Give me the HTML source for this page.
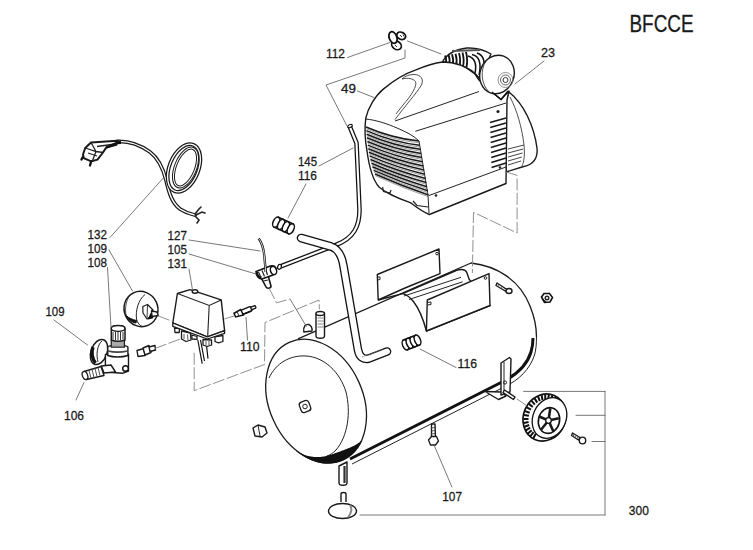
<!DOCTYPE html>
<html><head><meta charset="utf-8">
<style>
html,body{margin:0;padding:0;background:#fff;width:753px;height:550px;overflow:hidden}
svg{display:block}
text{font-family:"Liberation Sans",sans-serif;fill:#1a1a1a;stroke:#1a1a1a;stroke-width:0.3}
.l{fill:none;stroke:#1a1a1a;stroke-linecap:round;stroke-linejoin:round}
.t{fill:none;stroke:#333;stroke-linecap:round;stroke-linejoin:round}
.f{fill:#fff;stroke:#1a1a1a;stroke-linejoin:round}
.d{fill:none;stroke:#555;stroke-linecap:round}
.g{fill:none;stroke:#8a8a8a;stroke-dasharray:12 2.5}
.s{fill:none;stroke:#222;}
</style></head>
<body>
<svg width="753" height="550" viewBox="0 0 753 550">
<!-- POWER CORD -->
<g id="cord">
<path d="M117.5 141.5 C128 141 140 145 150 152 C158 158 163 168 166 180 C169 193 172 203 180 209 C186 213 191 214 195 215" fill="none" stroke="#1a1a1a" stroke-width="3.8" stroke-linecap="round"/>
<path d="M117.5 141.5 C128 141 140 145 150 152 C158 158 163 168 166 180 C169 193 172 203 180 209 C186 213 191 214 195 215" fill="none" stroke="#fff" stroke-width="1.3" stroke-linecap="round"/>
<ellipse cx="184" cy="168" rx="14.5" ry="25" transform="rotate(22 184 168)" fill="none" stroke="#1a1a1a" stroke-width="3.8"/>
<ellipse cx="184" cy="168" rx="14.5" ry="25" transform="rotate(22 184 168)" fill="none" stroke="#fff" stroke-width="1.3"/>
<ellipse cx="185.5" cy="167.5" rx="10" ry="20.5" transform="rotate(22 185.5 167.5)" fill="none" stroke="#1a1a1a" stroke-width="3"/>
<ellipse cx="185.5" cy="167.5" rx="10" ry="20.5" transform="rotate(22 185.5 167.5)" fill="none" stroke="#fff" stroke-width="1"/>
<path class="f" stroke-width="2" d="M91 142.5 L117.2 140.7 L116.5 144.7 L106.2 147.6 L102.6 153 L97.5 159.6 L92.4 161 L89.5 160.7 L83.7 158.2 L83 154.5 L85.2 148 Z"/>
<path class="s" stroke-width="1.3" d="M85.5 148 L96 151.5 L103 152.5 M96 151.5 L92.4 161 M91 142.5 L96 151.5 M97 146.5 L115.5 144 M88 153 L97 156"/>
<path d="M106.2 147.6 L117.5 142.5" stroke="#111" stroke-width="2.4"/>
<path d="M117 142.5 L121 142.3" stroke="#111" stroke-width="3.4"/>
<path d="M82.5 157.5 L81.5 159.5 M91 162 L90 165.5" stroke="#111" stroke-width="2.3" stroke-linecap="round"/>
<path d="M195 214 L199 209 L201 207 M196 215 L202 212 L205 213 M195 216 L199 220 L197 223" fill="none" stroke="#222" stroke-width="1.6" stroke-linecap="round"/>
</g>



<!-- TANK -->
<g id="tank">
<path fill="#fff" stroke="none" d="M298.5 338.6 L471 263 C497 266 520 280 530 306 C536 322 537 340 532 353 C527 365 518 373 507 379 L345 462 L318 462 L270 420 L266 390 Z"/>
<path class="l" stroke-width="1.3" d="M298.5 338.6 L471 263 C497 266 520 280 530 306 C534.5 317 536.5 327 536.5 337"/>

<ellipse class="l" style="fill:#fff" cx="316.1" cy="401.1" rx="46.8" ry="64.6" transform="rotate(-24.6 316.1 401.1)" stroke-width="1.3"/>
<path class="s" stroke-width="1" d="M269 378 C276 363 290 355 306 356 C324 357 340 372 346 392 C351 412 348 436 336 450 C333 453 330 455 327 456"/>
<path d="M296.4 451.3 L297.9 452.4 L299.4 453.5 L300.9 454.6 L302.4 455.6 L304.0 456.5 L305.6 457.4 L307.2 458.2 L308.7 459.0 L310.3 459.7 L312.0 460.4 L313.6 461.0 L315.2 461.5 L316.8 462.0 L318.4 462.4 L320.0 462.7 L321.6 463.0 L323.2 463.3 L324.8 463.4 L326.4 463.5 L327.9 463.6 L329.5 463.6 L331.1 463.5 L332.6 463.3 L334.1 463.1 L335.6 462.9 L337.1 462.5 L338.5 462.1 L340.0 461.7 L341.4 461.2 L342.8 460.6 L344.1 460.0 L345.5 459.3 L346.8 458.5 L348.0 457.7 L349.3 456.8 L350.5 455.9 L351.6 454.9 L352.8 453.9 L353.9 452.8 L354.9 451.7 L356.0 450.5 L357.0 449.3 L357.9 448.0 L358.8 446.7 L359.6 445.3 L360.5 443.9 L361.2 442.4 L362.0 440.9 L361.5 440.6 L360.2 441.7 L358.9 442.7 L357.6 443.6 L356.2 444.5 L354.9 445.3 L353.5 446.0 L352.2 446.6 L350.9 447.2 L349.6 447.8 L348.3 448.3 L347.1 448.8 L345.8 449.3 L344.6 449.7 L343.5 450.2 L342.3 450.6 L341.2 451.0 L340.0 451.4 L338.9 451.9 L337.8 452.3 L336.6 452.7 L335.5 453.1 L334.4 453.5 L333.2 453.9 L332.1 454.3 L330.9 454.7 L329.7 455.1 L328.4 455.4 L327.1 455.8 L325.8 456.1 L324.5 456.4 L323.2 456.6 L321.8 456.8 L320.3 456.9 L318.9 457.0 L317.4 457.1 L315.8 457.1 L314.3 457.0 L312.7 456.8 L311.1 456.6 L309.5 456.3 L307.9 455.9 L306.3 455.5 L304.6 454.9 L303.0 454.3 L301.4 453.6 L299.8 452.7 L298.2 451.8 L296.7 450.7 Z" fill="#111"/>
<path d="M350 459 L503 381.5 C516 375 527 365 531 352 C532.5 347 533 343 533 338" stroke="#111" stroke-width="3" fill="none"/>
<path d="M352 464 L505 386.5 C519 380 530 369 534.5 355 C536 350 536.5 344 536.5 336" stroke="#222" stroke-width="1" fill="none"/>
<rect x="300" y="401" width="10" height="11" rx="3" transform="rotate(-20 305 406.5)" class="f" stroke-width="1.3"/>
<circle cx="305" cy="406.5" r="2.3" fill="none" stroke="#222" stroke-width="1"/>
<path class="f" stroke-width="1.4" d="M339 466 L339 483 C339 486 347 486 347 483 L347 462 Z"/>
<path d="M344.5 466 L344.5 483" stroke="#333" stroke-width="2.2"/>
<ellipse class="f" stroke-width="1.4" cx="342.5" cy="511" rx="14" ry="7.5"/>
<path class="f" stroke-width="1.4" d="M341 502 L341 494 C341 492 346 492 346 494 L346 502"/>
<path d="M350 505 C352 508 352 513 348 517" stroke="#888" stroke-width="2" fill="none"/>
<!-- bolt bottom-left -->
<path class="f" stroke-width="1.4" d="M253 428 L258 425 L265 427 L267 433 L262 437 L255 436 Z"/>
<path class="s" stroke-width="1" d="M258 425 L260 436"/>
</g>

<!-- SADDLE BRACKET -->
<g id="saddle">
<path class="f" stroke-width="1.4" d="M377.3 274.5 L439 249 L440 273.6 L405 288 L378.2 300 Z"/>
<path class="s" stroke-width="1" d="M377.3 277 L380 277 L380 279.5 L377.5 280"/>
<circle cx="437" cy="253.6" r="1.3" fill="none" stroke="#222" stroke-width="1"/>
<path class="f" stroke-width="1.4" d="M378.2 300 L402.7 293.6 L457.3 270 C462 269 466 270 467 273 L469 279 L490 305.5 L426.4 331 C424 322 420 310 413.6 301.8 C410 297 406 294.5 402.7 293.6"/>
<path class="s" stroke-width="1" d="M404 296 L461 277.3 M409 299.5 L462.7 281.8"/>
<path class="f" stroke-width="1.4" d="M427.3 300 L489 273.6 L490 305.5 L426.4 331 Z"/>
<path class="s" stroke-width="1" d="M427.3 302.5 L431 302 L431 304.5 L427.5 305"/>
<circle cx="485.5" cy="278" r="1.3" fill="none" stroke="#222" stroke-width="1"/>
</g>
<!-- PIPE 145 -->
<g id="pipe">
<path d="M349.5 126 L356.5 143 L359.5 210 C359.5 226 354 238 336 245 L279 267" fill="none" stroke="#111" stroke-width="4.6" stroke-linecap="butt" stroke-linejoin="round"/>
<path d="M349.5 126 L356.5 143 L359.5 210 C359.5 226 354 238 336 245 L278.5 267.2" fill="none" stroke="#fff" stroke-width="2.1" stroke-linecap="butt" stroke-linejoin="round"/>
<ellipse cx="350" cy="126" rx="2.4" ry="1.5" transform="rotate(-25 350 126)" fill="#fff" stroke="#111" stroke-width="1.1"/>
<ellipse cx="279.5" cy="266.8" rx="1.8" ry="2.5" transform="rotate(20 279.5 266.8)" fill="#fff" stroke="#111" stroke-width="1.2"/>
</g>
<!-- HOSE -->
<g id="hose">
<path d="M301 238 L331 246.5 C338 249 342 256 343.5 266 L358 350 C359.5 357 363 360 369 358.5 L387 351.5" fill="none" stroke="#111" stroke-width="8.6" stroke-linecap="round" stroke-linejoin="round"/>
<path d="M301 238 L331 246.5 C338 249 342 256 343.5 266 L358 350 C359.5 357 363 360 369 358.5 L387 351.5" fill="none" stroke="#fff" stroke-width="6" stroke-linecap="round" stroke-linejoin="round"/>
<path d="M362 357 L384 349" stroke="#666" stroke-width="0.8" stroke-dasharray="1.5 1"/>
</g>
<!-- FITTINGS -->
<g id="fittings">
<path fill="#fff" stroke="#111" stroke-width="1.6" d="M274.0 227.0 L288.5 233.8 L293.0 224.0 L278.5 217.2 Z"/>
<ellipse cx="276.2" cy="222.1" rx="3.0" ry="5.4" transform="rotate(25.0 276.2 222.1)" fill="#fff" stroke="#111" stroke-width="1.5"/>
<ellipse cx="281.1" cy="224.4" rx="3.0" ry="5.4" transform="rotate(25.0 281.1 224.4)" fill="#fff" stroke="#111" stroke-width="1.5"/>
<ellipse cx="285.9" cy="226.6" rx="3.0" ry="5.4" transform="rotate(25.0 285.9 226.6)" fill="#fff" stroke="#111" stroke-width="1.5"/>
<ellipse cx="290.8" cy="228.9" rx="3.0" ry="5.4" transform="rotate(25.0 290.8 228.9)" fill="#fff" stroke="#111" stroke-width="1.5"/>
<path fill="#fff" stroke="#111" stroke-width="1.6" d="M407.5 349.8 L419.5 345.0 L415.5 335.2 L403.5 340.0 Z"/>
<ellipse cx="405.5" cy="344.9" rx="2.9" ry="5.3" transform="rotate(-22.0 405.5 344.9)" fill="#fff" stroke="#111" stroke-width="1.5"/>
<ellipse cx="409.5" cy="343.3" rx="2.9" ry="5.3" transform="rotate(-22.0 409.5 343.3)" fill="#fff" stroke="#111" stroke-width="1.5"/>
<ellipse cx="413.5" cy="341.7" rx="2.9" ry="5.3" transform="rotate(-22.0 413.5 341.7)" fill="#fff" stroke="#111" stroke-width="1.5"/>
<ellipse cx="417.5" cy="340.1" rx="2.9" ry="5.3" transform="rotate(-22.0 417.5 340.1)" fill="#fff" stroke="#111" stroke-width="1.5"/>
<!-- post -->
<path class="f" stroke-width="1.4" d="M316 314 L316 336 C316 339 324.5 339 324.5 336 L324.5 313 Z"/>
<ellipse class="f" stroke-width="1.4" cx="320.2" cy="313.5" rx="4.2" ry="2"/>
<path d="M317.5 318 L323.5 318 M317.5 321 L323.5 321 M317.5 324 L323.5 324 M317.5 327 L323.5 327" stroke="#555" stroke-width="0.7"/>
<!-- dome -->
<path class="f" stroke-width="1.4" d="M303.8 332 C303 326 306 324 308.5 324.5 C311 325 312.5 328 312 331 Z"/>
<!-- bolt 107 -->
<path class="f" stroke-width="1.4" d="M431.5 424 L435 424 L435.5 438 L431.5 438 Z"/>
<path d="M431 428 L435.5 427.5 M431 431 L435.5 430.5 M431 434 L435.5 433.5" stroke="#333" stroke-width="0.8"/>
<path class="f" stroke-width="1.3" d="M428.5 440 L431.5 436.5 L436.5 436.5 L438.5 441 L435.5 445 L430.5 445 Z"/>
<!-- bolt right on tank -->
<path class="f" stroke-width="1.4" d="M497 283 L507 289.5 L506 291.5 L496 285.5 Z"/>
<ellipse class="f" stroke-width="1.4" cx="509" cy="291" rx="3" ry="2.5"/>
<path d="M499 284.5 L498.5 286 M502 286.5 L501.5 288 M504.5 288 L504 289.5" stroke="#333" stroke-width="0.7"/>
<!-- nut right -->
<path fill="#fff" stroke="#111" stroke-width="1.6" d="M541.5 297 L544 293.5 L549.5 293.5 L552.5 297.5 L550 302 L544.5 302.5 Z"/>
<circle cx="547" cy="298" r="1.8" fill="none" stroke="#222" stroke-width="1.4"/>
<path d="M542 299 L546 302" stroke="#111" stroke-width="1.2"/>
<!-- fitting 112 -->
<ellipse cx="396.5" cy="45.3" rx="5.2" ry="4" transform="rotate(35 396.5 45.3)" fill="#fff" stroke="#111" stroke-width="1.7"/>
<ellipse cx="401.2" cy="35.8" rx="4.6" ry="3.5" transform="rotate(25 401.2 35.8)" fill="#fff" stroke="#111" stroke-width="1.8"/>
<ellipse cx="393" cy="37.5" rx="3.8" ry="6" transform="rotate(-20 393 37.5)" fill="#fff" stroke="#111" stroke-width="1.8"/>
<path d="M400 35 L402 37 M403 34.5 L404 36.5 M395 45 L397 47" stroke="#333" stroke-width="1"/>
<!-- T fitting 105 -->
<path fill="#fff" stroke="#111" stroke-width="1.6" d="M261.5 278.5 L266 287 C267 289 271 288.5 271 286 L268.5 277"/>
<path fill="#fff" stroke="#111" stroke-width="1.6" d="M256 271.5 C256 276 259 279 262 279 L273 275 C276 274 277 270 275.5 267.5 C274 265.5 271 265.5 269 266.5 Z"/>
<ellipse fill="#fff" stroke="#111" stroke-width="1.5" cx="273.5" cy="270.5" rx="3" ry="4.2" transform="rotate(-20 273.5 270.5)"/>
<path d="M258.5 272 L261 277.5 M262 270.5 L264.5 276.5 M265.5 269 L267.5 275 M263.5 281 L268 280" stroke="#222" stroke-width="1.2"/>
<path d="M257 272 C257 275 259 277.5 261.5 277.5" stroke="#111" stroke-width="1.8" fill="none"/>
<!-- wire 127 -->
<path d="M258.7 238.5 C262 243 264 250 264.5 258 C265 264 265.5 268 265.7 272" fill="none" stroke="#111" stroke-width="2.4"/>
<path d="M258.7 238.5 C262 243 264 250 264.5 258 C265 264 265.5 268 265.7 272" fill="none" stroke="#fff" stroke-width="0.8"/>
<!-- nipple 110 -->
<g transform="rotate(-22 245 311)">
<rect x="241" y="308.8" width="11" height="4.4" rx="1" fill="#fff" stroke="#111" stroke-width="1.4"/>
<rect x="251.5" y="309.6" width="5" height="2.8" rx="1.2" fill="#fff" stroke="#111" stroke-width="1.3"/>
<path d="M234 309 L241.5 308 L242 314 L234 313 Z" fill="#fff" stroke="#111" stroke-width="1.5"/>
<path d="M237.5 308.5 L237.5 313.5" stroke="#333" stroke-width="1"/>
<path d="M241.5 313.5 L251 313.5" stroke="#111" stroke-width="1.6"/>
</g>
</g>


<!-- PRESSURE SWITCH -->
<g id="pswitch">
<path d="M197.8 340 L202.2 363.7 M200.5 340 L204.5 361 M206.5 345.5 L208 358.6" stroke="#111" stroke-width="1.2"/>
<path class="f" stroke-width="1.3" d="M174.5 328 L179.5 328.5 L179.2 332.5 L175 332.5 Z"/>
<path class="f" stroke-width="1.3" d="M181.5 331 L190.5 333 L191 340 L186 341.5 L181.5 339 Z"/>
<path class="f" stroke-width="1.3" d="M191.8 335 L197 336.5 L197 339.4 L192 339 Z"/>
<path class="f" stroke-width="1.3" d="M203 339.5 L211.5 340 L211.6 345 L207 346.5 L203 345 Z"/>
<path class="f" stroke-width="1.3" d="M215 336.8 L222.9 335.5 L222.9 341.5 L218.5 342.8 L215 341.5 Z"/>
<path d="M184 334 L184 339 M187.5 334.5 L188 340 M206 341 L206 345.5 M209 341 L209 345.5" stroke="#444" stroke-width="0.9"/>
<path class="f" stroke-width="1.4" d="M177.4 293.5 L190 289.6 L221.2 299.9 L224.6 330.7 L207.3 336.8 L172.8 323 Z"/>
<path class="s" stroke-width="1.1" d="M177.4 293.5 L209.2 305.5 L221.2 299.9 M209.2 305.5 L207.7 336"/>
<path class="f" stroke-width="1.3" d="M172.8 323 L207.3 336.8 L224.6 330.7 L224.6 333.3 L207.3 339 L172.8 326.4 Z"/>
<ellipse class="f" stroke-width="1.4" cx="195" cy="291.5" rx="2.8" ry="1.8"/>
</g>
<!-- GAUGE 109 -->
<g id="gauge">
<ellipse class="f" cx="141" cy="309" rx="16.8" ry="17.8" transform="rotate(-25 141 309)" stroke-width="1.5"/>
<path class="s" stroke-width="1" d="M145 294.5 C138 300 135.5 311 136.5 319 C137.5 323 139.5 325.5 142 326.3"/>
<path class="s" stroke-width="0.8" d="M130 295 C125 302 124.5 312 127 318"/>
<path d="M126 315.5 C128 320 132 322.5 136 323 L136.5 320.5 C132 319.5 129 318 126 315.5 Z" fill="#111" stroke="#111" stroke-width="1"/>
<path class="f" stroke-width="1.2" d="M142.8 306.5 L147.5 304.5 L152.5 309.5 L152.2 317.5 L147 319 L143 313 Z"/>
<path d="M147.5 304.5 L147 319" stroke="#222" stroke-width="0.9"/>
<path d="M148 318.5 L152.2 317.5 L152.5 309.5" stroke="#111" stroke-width="2"/>
<path class="f" stroke-width="1.4" d="M151.5 311 L157 312 L158.3 315.5 L152 316.5 Z"/>
</g>
<!-- REGULATOR -->
<g id="regulator">
<ellipse class="f" cx="99" cy="352" rx="8" ry="13" transform="rotate(20 99 352)" stroke-width="1.5"/>
<path d="M93 347 C91 352 92 359 95.5 363" stroke="#111" stroke-width="3.4" fill="none"/>
<path class="s" stroke-width="1" d="M102 341 C97 345 96 355 98 362"/>
<path class="f" stroke-width="1.4" d="M105.4 354.5 L128.5 354.3 L128.5 371 L123 373.2 L105.4 372 Z"/>
<path class="f" stroke-width="1.4" d="M101.3 366 L111 365 L115.5 372 L104 373 Z"/>
<circle cx="125.5" cy="368.5" r="2.8" fill="#fff" stroke="#111" stroke-width="1.4"/>
<path class="f" stroke-width="1.4" d="M107.8 347 C108 345 127.5 345 127.9 347 L127.9 355.5 C122 357.5 113 357.5 107.8 355.5 Z"/>
<path d="M108 351 C114 352.5 121 352.5 127.8 351" stroke="#444" stroke-width="1.6" fill="none"/>
<path class="f" stroke-width="1.3" d="M111.3 340 L124.4 340 L124.4 347.2 L111.3 347.2 Z"/>
<path d="M111.5 342 L124.2 342 M111.5 344 L124.2 344 M111.5 346 L124.2 346" stroke="#555" stroke-width="1"/>
<path class="f" stroke-width="1.5" d="M111.3 328.5 C111.3 324.5 125 324.5 125 328.5 L125 340 C121 341.5 115 341.5 111.3 340 Z"/>
<ellipse class="f" cx="118.1" cy="328.5" rx="6.8" ry="2.8" stroke-width="1.3"/>
<path d="M113 332 L113 339.5 M115.5 332 L115.5 340 M118 332 L118 340 M120.5 332 L120.5 340 M123 332 L123 339.5" stroke="#333" stroke-width="1"/>
<path class="f" stroke-width="1.4" d="M84 371.5 L101 366.5 L104 375.5 L86.5 379.5 Z"/>
<ellipse class="f" cx="85" cy="375.5" rx="2.6" ry="4.2" transform="rotate(-20 85 375.5)" stroke-width="1.3"/>
<path d="M89 370.5 L91 378 M92 369.5 L94 377.5 M95 368.5 L97 376.5 M98 367.5 L100 375.5" stroke="#444" stroke-width="0.9"/>
</g>
<!-- SMALL NIPPLE -->
<g>
<path class="f" stroke-width="1.4" d="M137 350.5 L144 348.5 L145 355.5 L138 356.5 Z"/>
<path class="f" stroke-width="1.4" d="M143 348 L149 345.5 L151 352.5 L145 355 Z"/>
<path class="f" stroke-width="1.4" d="M149 347 L155 345.5 L155.5 350 L150 351.5 Z"/>
</g>

<!-- WHEEL BRACKET -->
<g id="bracket">
<path class="f" stroke-width="1.4" d="M485 391.5 L498.5 399.5 L506 396 L501 392 Z"/>
<path class="f" stroke-width="1.4" d="M501 363 L509.5 357.5 L511 359 L510 392 L501 395 Z"/>
<path class="s" stroke-width="1" d="M504 362 L504 394"/>
<circle cx="505" cy="382.5" r="1.6" fill="none" stroke="#222" stroke-width="1"/>
<path class="f" stroke-width="1.4" d="M504.5 390 L515 397 L513.5 399.5 L503 392.5 Z"/>
</g>
<!-- WHEEL -->
<g id="wheel">
<ellipse cx="544.5" cy="417.5" rx="21" ry="24" transform="rotate(24 544.5 417.5)" fill="#fff" stroke="#111" stroke-width="1.7"/>
<path d="M533.3 438.2 L535.8 433.8 M530.4 436.1 L533.6 432.2 M527.9 433.4 L531.7 430.2 M525.9 430.3 L530.2 427.7 M524.5 426.8 L529.2 425.0 M523.7 423.0 L528.6 422.0 M523.5 419.0 L528.5 418.9 M523.9 415.0 L528.9 415.8 M525.0 411.1 L529.7 412.7 M526.7 407.3 L531.0 409.7 M528.9 403.9 L532.8 407.0 M531.6 400.9 L534.8 404.6 M534.6 398.4 L537.2 402.6 M538.0 396.4 L539.8 401.1 M541.6 395.1 L542.5 400.0 M545.2 394.5 L545.3 399.5 M548.9 394.6 L548.1 399.5 M552.4 395.4 L550.8 400.1 M555.7 396.8 L553.2 401.2 M558.6 398.9 L555.4 402.8" stroke="#111" stroke-width="2"/>
<ellipse cx="549.5" cy="418" rx="16.5" ry="21" transform="rotate(24 549.5 418)" fill="#fff" stroke="#111" stroke-width="1.3"/>
<ellipse cx="549" cy="420.5" rx="10.5" ry="13" transform="rotate(15 549 420.5)" fill="#fff" stroke="#111" stroke-width="1.6"/>
<path d="M548.5 420.5 L550.3 408.2 M548.5 420.5 L558.8 418.3 M548.5 420.5 L553.4 431.5 M548.5 420.5 L541.2 429.5 M548.5 420.5 L538.6 416.2" stroke="#1a1a1a" stroke-width="2.6"/>
<circle cx="548.5" cy="420.5" r="2.8" fill="#fff" stroke="#111" stroke-width="1.3"/>
<path class="f" stroke-width="1.4" d="M572.5 433 L580 437.5 L578.5 440 L571.5 435.5 Z"/>
<path d="M574 434 L573.5 436 M576 435.3 L575.5 437.3 M578 436.5 L577.5 438.5" stroke="#333" stroke-width="0.8"/>
<ellipse class="f" stroke-width="1.4" cx="582.5" cy="440.5" rx="3.2" ry="3.4"/>
</g>
<!-- HOUSING -->
<g id="housing">
<path class="f" stroke-width="1.4" d="M442.5 62 C446 55 452 50 467 48 C478 47.5 486 51 491 54 L480 79 C476 74 470 68 460 65 C452 63 446 62 442.5 62 Z"/>
<path d="M445 55.5 Q447.0 60.0 445.5 64.0 M448.5 54.9 Q450.5 60.0 449.0 64.5 M452 54.3 Q454.0 60.0 452.5 65.0 M455.5 53.7 Q457.5 60.0 456.0 65.5 M459 53.1 Q461.0 60.0 459.5 66.0 M462.5 52.5 Q464.5 60.0 463.0 66.5 M466 51.9 Q468.0 60.0 466.5 67.0" stroke="#111" stroke-width="1.8" fill="none"/>
<path d="M468 56 Q478 59 475 73 M472 54.5 Q483 57 479 75 M477 53 Q487 56 483 73" stroke="#111" stroke-width="1.5" fill="none"/>
<path d="M452 51 L480 50" stroke="#555" stroke-width="2" />
<path class="f" d="M509 92 C524 104 534 126 537 148 C538 158 533 165 522 167 L506 172 L506 100 Z" stroke-width="1.4"/>
<path class="s" stroke-width="0.8" d="M510 97 C517 110 522 128 524 145 C525 155 524 162 522 166"/>
<path d="M508.0 149.0 L524.0 145.0 M508.0 153.0 L523.2 149.0 M508.0 157.0 L522.5 153.0 M508.0 161.0 L521.8 157.0 M508.0 165.0 L521.0 161.0" stroke="#444" stroke-width="1" fill="none"/>
<path class="f" stroke-width="1.4" d="M365.8 118.2 C368 108 375 96 383.3 89.1 C392 82 404 74 415.3 70.2 C425 66 434 63 442.5 62 C455 62 466 66 475 74 L479 80 L492 92 L501 99.5 L509 91 L507 100 L506 183.5 L429.3 214.5 C421 211 415 206 411 203 C398 198 387 194 379 187 C372 179 369 166 367 151 C365 140 364.5 128 365.8 118.2 Z"/>
<path class="s" stroke-width="1" d="M365.8 119 C376 120 388 124 397 128 C406 132 413 135 419 141 L428 195 L429 213"/>
<path class="s" stroke-width="1" d="M395 121 L479 91.5 M415.3 131.3 L506 103 M429 195.5 L506 167"/>
<path class="s" stroke-width="0.8" d="M395 119.6 C405 106 416 94 421.5 85 C424 79.5 421 74.5 414 74.5 C409 74.5 405 76 402 79 C408 77.5 413 78.5 415.5 81.5 C417.5 86 411 96 403 105 C400 109 397.5 112 396 114"/>
<path d="M366.0 127.0 Q392.5 138.5 419.0 141.0 M366.3 130.6 Q393.0 142.2 419.7 145.2 M366.6 134.2 Q393.5 145.8 420.5 149.3 M367.0 137.8 Q394.1 149.5 421.2 153.5 M367.4 141.5 Q394.6 153.1 421.9 157.6 M367.8 145.1 Q395.2 156.8 422.7 161.8 M368.3 148.7 Q395.9 160.4 423.4 165.9 M368.9 152.3 Q396.5 164.1 424.1 170.1 M369.6 155.9 Q397.2 167.7 424.8 174.2 M370.4 159.5 Q398.0 171.4 425.6 178.4 M371.4 163.2 Q398.8 175.0 426.3 182.5 M372.4 166.8 Q399.7 178.7 427.0 186.7 M373.6 170.4 Q400.7 182.3 427.8 190.8 M375.0 174.0 Q401.8 186.0 428.5 195.0" stroke="#1a1a1a" stroke-width="1.5" fill="none"/>
<path d="M366.5 128.8 Q392.8 140.3 419.0 142.8 M366.8 132.4 Q393.3 144.0 419.7 147.0 M367.1 136.0 Q393.8 147.6 420.5 151.1 M367.5 139.6 Q394.3 151.3 421.2 155.3 M367.9 143.3 Q394.9 154.9 421.9 159.4 M368.3 146.9 Q395.5 158.6 422.7 163.6 M368.8 150.5 Q396.1 162.2 423.4 167.7 M369.4 154.1 Q396.8 165.9 424.1 171.9 M370.1 157.7 Q397.5 169.5 424.8 176.0 M370.9 161.3 Q398.3 173.2 425.6 180.2 M371.9 165.0 Q399.1 176.8 426.3 184.3 M372.9 168.6 Q400.0 180.5 427.0 188.5 M374.1 172.2 Q400.9 184.1 427.8 192.6 M375.5 175.8 Q402.0 187.8 428.5 196.8" stroke="#777" stroke-width="0.7" fill="none"/>
<path d="M490.0 122.5 L506.0 118.0 M490.2 127.5 L506.0 123.0 M490.3 132.5 L506.0 128.0 M490.5 137.5 L506.0 133.0 M490.7 142.5 L506.0 138.0 M490.8 147.5 L506.0 143.0 M491.0 152.5 L506.0 148.0 M491.2 157.5 L506.0 153.0 M491.3 162.5 L506.0 158.0 M491.5 167.5 L506.0 163.0" stroke="#1a1a1a" stroke-width="1.7"/>
<circle cx="498" cy="111.5" r="1.6" fill="#222"/>
<circle cx="500" cy="167.5" r="1.3" fill="#222"/>
<circle cx="436" cy="195.5" r="1.3" fill="#222"/>
<path class="s" stroke-width="1.2" d="M382.5 187 L383.5 191.5 L390 193 L391 190 M413 201 L417 205.5 L428 207"/>
<ellipse class="f" cx="497" cy="74.5" rx="17" ry="19.5" transform="rotate(20 497 74.5)" stroke-width="1.4"/>
<path class="s" stroke-width="0.8" d="M486 61 C480 70 481 84 489 92"/>
<circle cx="505.5" cy="80" r="7.5" fill="none" stroke="#777" stroke-width="0.8"/>
<circle cx="505.5" cy="80" r="5" fill="none" stroke="#555" stroke-width="0.9"/>
<circle cx="505.5" cy="80" r="2.5" fill="none" stroke="#333" stroke-width="1"/>
<path d="M492 92 L501 99.5 L508 91" stroke="#111" stroke-width="1.3" fill="none"/>
</g>
<!-- DASHED -->
<g class="g" stroke-width="0.95">
<path d="M506.2 172 L517.1 175.3 L517.1 233 L473.5 212.3 L472.4 273"/>
<path d="M194.2 352.8 L194.2 390.6 L264.5 364.5 L265 322.5 L319 300 L319.4 309.3"/>
<path d="M269.2 288.3 L276.5 302.8 L289.6 299.2"/>
<path d="M158.2 315.9 L172.6 321.4"/>
<path d="M155 348.4 L180.4 339"/>
<path d="M224.4 319 L234 316"/>
<path d="M517 399 L526.4 405.5"/>
</g>

<!-- LEADER LINES -->
<g class="d" stroke-width="0.8">
<path d="M347.5 57.5 L390 42.5"/>
<path d="M407.5 41 L441 54"/>
<path d="M405 50 L405 58 L326 85 L347 126"/>
<path d="M357.5 91 L374 97.5"/>
<path d="M544 61 L515 84"/>
<path d="M319 166 L353 148"/>
<path d="M306 184 L288 218"/>
<path d="M110 237.5 L163.75 177.5"/>
<path d="M189 240 L260 251"/>
<path d="M189 254 L256 274"/>
<path d="M189 269 L192.5 290"/>
<path d="M109 250 L132.5 291"/>
<path d="M107.5 267.5 L111 327.5"/>
<path d="M54 320 L87.5 345"/>
<path d="M76 400 L84 382.5"/>
<path d="M246 317.5 L247.5 340"/>
<path d="M420 349 L456 367.5"/>
<path d="M434.3 445.6 L451.9 487"/>
<path d="M605 391.4 L605 515 M523.6 391.4 L605 391.4 M576 415.3 L605 415.3 M592 441.5 L605 441.5 M360 515 L605 515"/>
<path d="M290 299 L306.4 326.4"/>
</g>
<!-- TEXT -->
<g font-size="13.5">
<text x="629.5" y="31.5" font-size="23.5" textLength="64" lengthAdjust="spacingAndGlyphs">BFCCE</text>
<text x="326" y="58" textLength="19" lengthAdjust="spacingAndGlyphs">112</text>
<text x="541" y="57" textLength="14" lengthAdjust="spacingAndGlyphs">23</text>
<text x="341" y="93" textLength="15" lengthAdjust="spacingAndGlyphs">49</text>
<text x="298" y="166" textLength="19" lengthAdjust="spacingAndGlyphs">145</text>
<text x="298" y="180" textLength="19" lengthAdjust="spacingAndGlyphs">116</text>
<text x="87.5" y="239" textLength="19.5" lengthAdjust="spacingAndGlyphs">132</text>
<text x="87.5" y="253" textLength="19.5" lengthAdjust="spacingAndGlyphs">109</text>
<text x="87.5" y="267" textLength="19.5" lengthAdjust="spacingAndGlyphs">108</text>
<text x="167.5" y="239.8" textLength="19.5" lengthAdjust="spacingAndGlyphs">127</text>
<text x="167.5" y="254" textLength="19.5" lengthAdjust="spacingAndGlyphs">105</text>
<text x="167.5" y="268.3" textLength="19.5" lengthAdjust="spacingAndGlyphs">131</text>
<text x="45.5" y="316" textLength="19" lengthAdjust="spacingAndGlyphs">109</text>
<text x="240" y="351" textLength="19.5" lengthAdjust="spacingAndGlyphs">110</text>
<text x="457.5" y="367.5" textLength="19.5" lengthAdjust="spacingAndGlyphs">116</text>
<text x="64" y="419.5" textLength="20" lengthAdjust="spacingAndGlyphs">106</text>
<text x="442.3" y="500.9" textLength="19.7" lengthAdjust="spacingAndGlyphs">107</text>
<text x="628.8" y="514.8" textLength="20" lengthAdjust="spacingAndGlyphs">300</text>
</g>


</svg>
</body></html>
